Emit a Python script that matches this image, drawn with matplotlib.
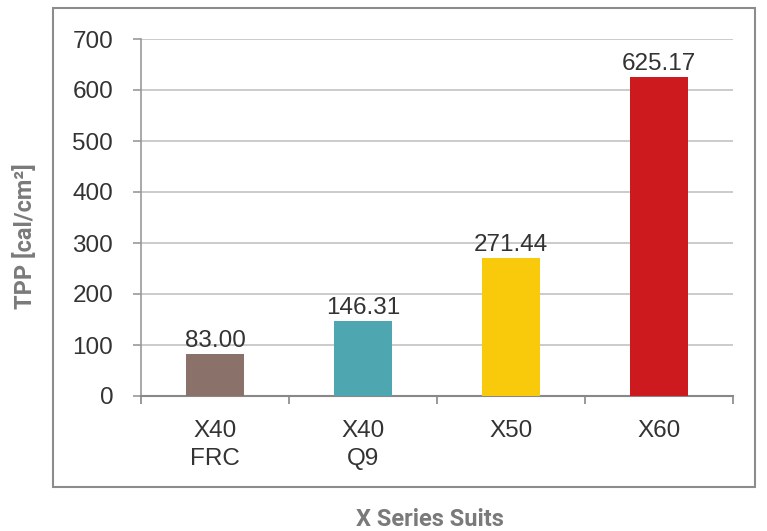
import numpy as np
import matplotlib
matplotlib.use("Agg")
import matplotlib.pyplot as plt
from matplotlib.patches import Rectangle

categories = ["X40\nFRC", "X40\nQ9", "X50", "X60"]
tpp_values = [83.00, 146.31, 271.44, 625.17]
bar_colors = ["#8a7169", "#4ea6b0", "#f9c90c", "#cc1a1f"]
y_ticks = [0, 100, 200, 300, 400, 500, 600, 700]

plt.rcParams['font.family'] = ['Liberation Sans', 'DejaVu Sans']

fig = plt.figure(figsize=(7.67, 5.31), dpi=100)
ax = fig.add_axes([141 / 767, 1 - 396 / 531, (733 - 141) / 767, (396 - 39) / 531])

x = np.arange(len(categories))
bars = ax.bar(x, tpp_values, width=0.39, color=bar_colors, zorder=3)
for b, v in zip(bars, tpp_values):
    ax.text(b.get_x() + b.get_width() / 2, v + 4, f"{v:.2f}",
            ha='center', va='bottom', fontsize=17.5, color='#333333', zorder=4)

ax.set_xlim(-0.5, len(categories) - 0.5)
ax.set_ylim(0, 700)
ax.set_yticks(y_ticks)
ax.set_yticklabels([str(t) for t in y_ticks], fontsize=17.5, color='#333333')
ax.set_xticks(x)
ax.set_xticklabels(categories, fontsize=17.5, color='#333333', linespacing=1.4)
ax.set_xticks(np.arange(-0.5, len(categories), 1.0), minor=True)

ax.tick_params(axis='x', which='major', length=0, pad=17)
ax.tick_params(axis='x', which='minor', length=6, width=1.2, color='#888888', direction='out')
ax.tick_params(axis='y', length=6, width=1.2, color='#999999', pad=14)

ax.yaxis.grid(True, color='#bdbdbd', linewidth=1.1, zorder=0)
for s in ['top', 'right']:
    ax.spines[s].set_visible(False)
ax.spines['left'].set_color('#999999')
ax.spines['left'].set_linewidth(1.2)
ax.spines['bottom'].set_color('#888888')
ax.spines['bottom'].set_linewidth(1.5)

fig.text(25 / 767, 1 - 236 / 531, "TPP [cal/cm²]", rotation=90, ha='center', va='center',
         fontsize=17, fontweight='bold', color='#7a7a7a', family=['Roboto', 'DejaVu Sans'])
fig.text(430 / 767, 1 - 519 / 531, "X Series Suits", ha='center', va='center',
         fontsize=17, fontweight='bold', color='#7a7a7a', family=['Roboto', 'DejaVu Sans'])

fig.patches.append(Rectangle((53 / 767, 1 - 487 / 531), (755 - 53) / 767, (487 - 8) / 531,
                             transform=fig.transFigure, fill=False, edgecolor='#8c8c8c',
                             linewidth=1.5))

fig.savefig("out.png", dpi=100)
